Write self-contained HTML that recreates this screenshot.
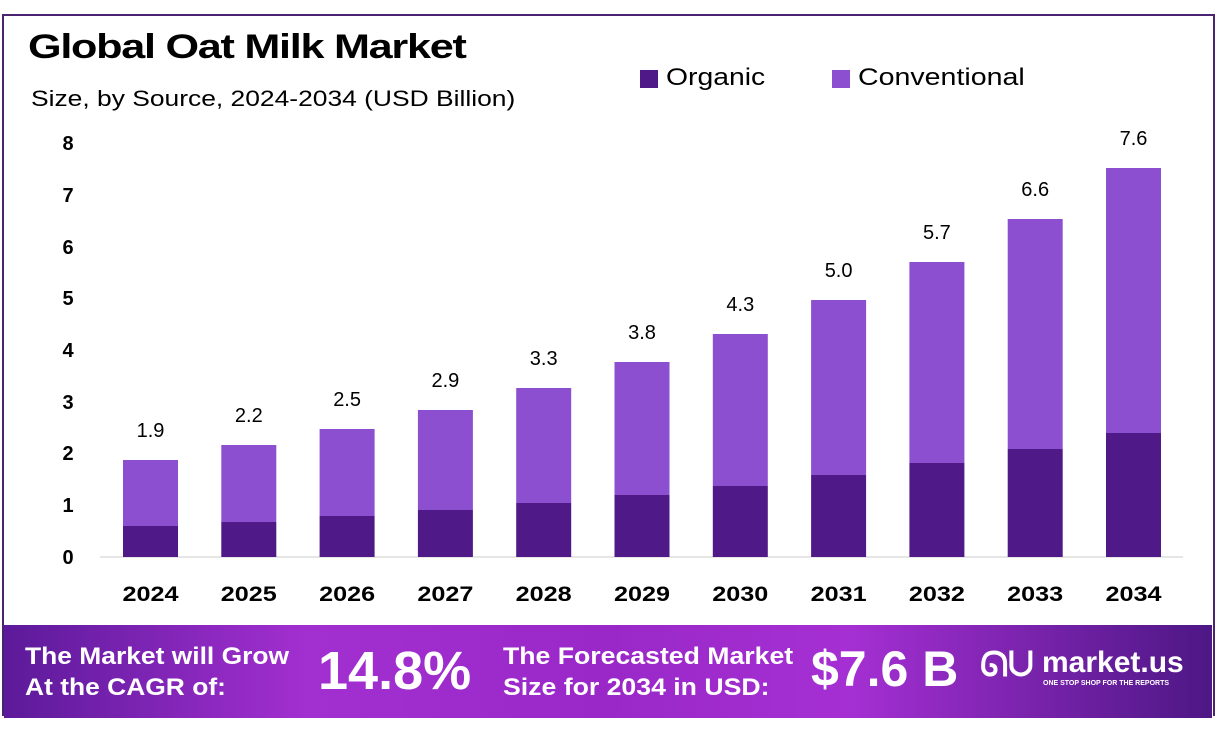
<!DOCTYPE html><html><head><style>
body{margin:0;width:1216px;height:735px;background:#fff;font-family:"Liberation Sans",sans-serif;position:relative;overflow:hidden}
.box{position:absolute;left:2px;top:14px;width:1209px;height:700px;border:2px solid #4a2470;border-bottom:none}
.t{position:absolute;white-space:nowrap;transform-origin:left top}
.banner{position:absolute;left:4px;top:625px;width:1208px;height:93px;background:linear-gradient(90deg,#5c1a9a 0%,#a22fd0 25%,#9a28c8 50%,#a52fd3 70%,#4d1785 100%)}
.w{color:#fff;font-weight:bold}
</style></head><body>
<div class="box"></div>
<div class="t" style="left:28px;top:28px;font-size:34px;font-weight:bold;letter-spacing:-1px;transform:scaleX(1.27)">Global Oat Milk Market</div>
<div class="t" style="left:31px;top:86px;font-size:22px;transform:scaleX(1.2)">Size, by Source, 2024-2034 (USD Billion)</div>
<div style="position:absolute;left:640px;top:70px;width:18px;height:18px;background:#4f1a87"></div>
<div class="t" style="left:666px;top:64px;font-size:24px;transform:scaleX(1.18)">Organic</div>
<div style="position:absolute;left:832px;top:70px;width:18px;height:18px;background:#8b4fcf"></div>
<div class="t" style="left:858px;top:64px;font-size:24px;transform:scaleX(1.19)">Conventional</div>
<svg width="1216" height="620" style="position:absolute;left:0;top:0">
<g font-family="Liberation Sans" font-weight="bold" font-size="20" text-anchor="middle">
<text x="68" y="564">0</text><text x="68" y="512">1</text><text x="68" y="460">2</text><text x="68" y="409">3</text><text x="68" y="357">4</text><text x="68" y="305">5</text><text x="68" y="254">6</text><text x="68" y="202">7</text><text x="68" y="150">8</text>
</g>
<line x1="100" y1="557" x2="1183" y2="557" stroke="#ccc"/>
<g id="bars"></g>
</svg>
<div class="banner"></div>
<div class="t w" style="left:25px;top:641px;font-size:24px;line-height:31px;transform:scaleX(1.1)">The Market will Grow<br>At the CAGR of:</div>
<div class="t w" style="left:318px;top:640px;font-size:54px">14.8%</div>
<div class="t w" style="left:503px;top:641px;font-size:24px;line-height:31px;transform:scaleX(1.11)">The Forecasted Market<br>Size for 2034 in USD:</div>
<div class="t w" style="left:811px;top:640px;font-size:50px">$7.6 B</div>
<div class="t w" style="left:980px;top:646px;font-size:34px">ᘏᑌ</div>
<div class="t w" style="left:1042px;top:646px;font-size:30px">market.us</div>
<div class="t w" style="left:1043px;top:680px;font-size:7px">ONE STOP SHOP FOR THE REPORTS</div>
<script>
var tot=[1.9,2.2,2.5,2.9,3.3,3.8,4.3,5.0,5.7,6.6,7.6],ttop=[460,445,429,410,388,362,334,300,262,219,168],otop=[526,522,516,510,503,495,486,475,463,449,433];
var s='';for(var i=0;i<11;i++){var x=123+i*98.3;
s+='<rect x="'+x+'" y="'+ttop[i]+'" width="55" height="'+(otop[i]-ttop[i])+'" fill="#8b4fcf"/>';
s+='<rect x="'+x+'" y="'+otop[i]+'" width="55" height="'+(557-otop[i])+'" fill="#4f1a87"/>';
s+='<text x="'+(x+27.5)+'" y="'+(ttop[i]-23)+'" font-family="Liberation Sans" font-size="20" text-anchor="middle">'+tot[i].toFixed(1)+'</text>';
s+='<text x="'+(x+27.5)+'" y="601" font-family="Liberation Sans" font-weight="bold" font-size="21" text-anchor="middle" textLength="56" lengthAdjust="spacingAndGlyphs">'+(2024+i)+'</text>';}
document.getElementById('bars').innerHTML=s;
</script>
</body></html>
